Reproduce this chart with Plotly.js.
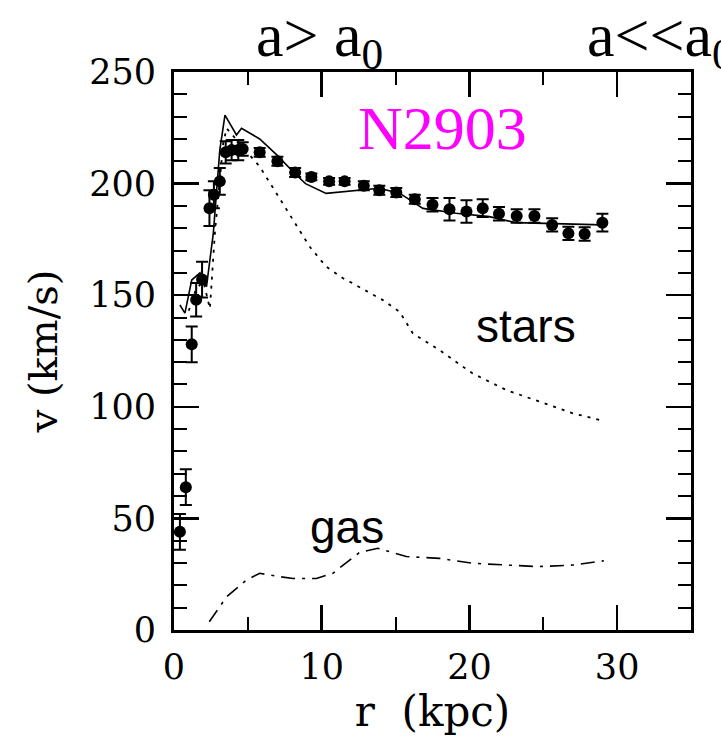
<!DOCTYPE html>
<html><head><meta charset="utf-8">
<script src="https://cdn.plot.ly/plotly-3.0.1.min.js"></script>
<style>html,body{margin:0;padding:0;background:#fff}#plot{width:721px;height:740px}</style>
</head><body><div id="plot"></div>
<script>
// Observed rotation curve
const r_obs = [0.4, 0.8, 1.2, 1.5, 1.9, 2.4, 2.7, 3.1, 3.5, 3.9, 4.35, 4.65, 5.8, 7.0, 8.2, 9.3, 10.5, 11.55, 12.85, 13.9, 15.05, 16.3, 17.5, 18.65, 19.8, 20.9, 22.0, 23.2, 24.4, 25.6, 26.7, 27.8, 29.0];
const v_obs = [44, 64, 128, 148, 157, 189, 195, 201, 214, 215, 215, 215.5, 214, 210, 205, 203, 201, 201, 199, 197, 196, 193, 190.5, 188.5, 187.5, 189, 186.5, 185.5, 185.5, 181.5, 177.7, 177.4, 182.5];
const v_err = [8, 8, 8, 7.5, 8, 8, 6, 6, 5, 4.5, 4.5, 3, 2, 2, 2, 1.5, 1.5, 1.5, 2, 2, 2, 2, 3, 5, 5, 4, 3, 3, 3, 3, 3, 3, 4];
// Total (fit)
const r_tot = [0.4, 0.74, 1.2, 1.76, 2.2, 2.66, 3.1, 3.45, 4.23, 4.57, 5.8, 6.94, 8.06, 8.9, 10.3, 11.7, 12.3, 13.9, 15.3, 16.85, 19.1, 21.35, 23.15, 25.9, 29.0];
const v_tot = [145.6, 142, 156.8, 160, 153.8, 177.7, 215, 230.7, 221.8, 224.8, 220, 213, 205.3, 200, 195.6, 196.4, 197, 197.9, 195.6, 188.9, 186.7, 185.2, 182.5, 182, 181.5];
// Stars
const r_star = [1.0, 1.5, 2.0, 2.43, 2.77, 3.33, 3.56, 5.1, 5.8, 6.94, 8.06, 9.19, 10.3, 11.44, 12.1, 14.14, 15.27, 16.17, 17.97, 20.2, 22.5, 24.7, 27.0, 29.0];
const v_star = [143, 153, 156, 144, 178, 218, 224.8, 212.8, 207.6, 195.6, 183.7, 171.7, 162.8, 157.6, 155.3, 147.8, 142.6, 132.9, 125.4, 115, 107.5, 102.3, 97.1, 93.8];
// Gas
const r_gas = [2.39, 3.56, 4.9, 5.8, 7.16, 8.06, 9.64, 10.76, 11.67, 12.57, 13.8, 15.72, 17.97, 20.2, 22.5, 24.7, 27.0, 29.1];
const v_gas = [3.7, 14.9, 22.4, 25.4, 23.9, 23.1, 23.1, 25.4, 30.2, 34.8, 36.6, 32.9, 32.1, 29.9, 29.1, 28.4, 29.1, 31.0];
const xTicks = [0, 10, 20, 30];
const yTicks = [0, 50, 100, 150, 200, 250];

const serif = 'DejaVu Serif, serif';
const traces = [
  {x: r_gas, y: v_gas, mode: 'lines', line: {color: 'black', width: 1.6, dash: '14px,7px,3px,7px'}, hoverinfo: 'skip'},
  {x: r_star, y: v_star, mode: 'lines', line: {color: 'black', width: 1.8, dash: '3px,6px'}, hoverinfo: 'skip'},
  {x: r_tot, y: v_tot, mode: 'lines', line: {color: 'black', width: 1.6}, hoverinfo: 'skip'},
  {x: r_obs, y: v_obs, mode: 'markers', marker: {color: 'black', size: 12},
   error_y: {type: 'data', array: v_err, visible: true, color: 'black', thickness: 2, width: 6}}
];
const axBase = {
  showgrid: false, zeroline: false, showline: true, linecolor: 'black', linewidth: 3,
  mirror: 'ticks', ticks: 'inside', ticklen: 25, tickwidth: 2.5, tickcolor: 'black',
  tickfont: {family: serif, size: 35, color: 'black'}
};
const layout = {
  width: 721, height: 740,
  margin: {l: 174, r: 30, t: 72, b: 110},
  paper_bgcolor: 'white', plot_bgcolor: 'white',
  showlegend: false,
  xaxis: Object.assign({}, axBase, {
    range: [0, 35], tickvals: xTicks, ticklabelstandoff: 4,
    minor: {dtick: 5, ticks: 'inside', ticklen: 13, tickwidth: 2, tickcolor: 'black'},
    title: {text: 'r&nbsp;&nbsp;(kpc)', font: {family: serif, size: 42, color: 'black'}, standoff: 4}
  }),
  yaxis: Object.assign({}, axBase, {
    range: [0, 250], tickvals: yTicks, ticklabelstandoff: 8,
    minor: {dtick: 10, ticks: 'inside', ticklen: 13, tickwidth: 2, tickcolor: 'black'},
    title: {text: 'v (km/s)', font: {family: serif, size: 40, color: 'black'}, standoff: 20}
  }),
  annotations: [
    {xref: 'x', yref: 'y', x: 18.2, y: 225, text: 'N2903', showarrow: false,
     font: {family: 'Liberation Serif, serif', size: 62, color: '#ff00ff'}},
    {xref: 'x', yref: 'y', x: 23.85, y: 136, text: 'stars', showarrow: false,
     font: {family: 'Liberation Sans, Arial, sans-serif', size: 46, color: 'black'}},
    {xref: 'x', yref: 'y', x: 11.7, y: 46, text: 'gas', showarrow: false,
     font: {family: 'Liberation Sans, Arial, sans-serif', size: 46, color: 'black'}},
    {xref: 'paper', yref: 'paper', x: (319 - 174) / 517, y: 1 + (72 - 40) / 558, text: 'a&gt; a<sub>0</sub>', showarrow: false,
     xanchor: 'center', yanchor: 'middle',
     font: {family: 'Liberation Serif, serif', size: 62, color: 'black'}},
    {xref: 'paper', yref: 'paper', x: (585 - 174) / 517, y: 1 + (72 - 40) / 558, text: 'a&lt;&lt;a<sub>0</sub>', showarrow: false,
     xanchor: 'left', yanchor: 'middle',
     font: {family: 'Liberation Serif, serif', size: 62, color: 'black'}}
  ]
};
Plotly.newPlot('plot', traces, layout, {staticPlot: true, displayModeBar: false});
</script></body></html>
